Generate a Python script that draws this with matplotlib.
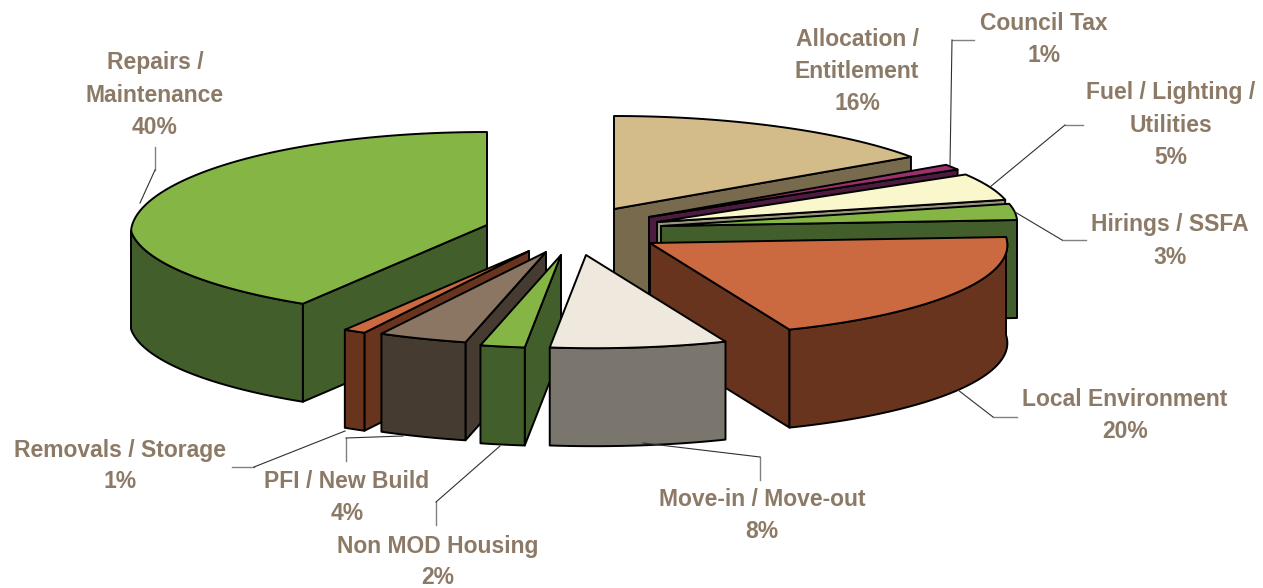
import numpy as np
from matplotlib import pyplot as plt
from matplotlib.patches import Polygon

# clockwise from 12 o'clock
nazwy = ['Allocation /\nEntitlement', 'Council Tax', 'Fuel / Lighting /\nUtilities', 'Hirings / SSFA',
         'Local Environment', 'Move-in / Move-out', 'Non MOD Housing', 'PFI / New Build',
         'Removals / Storage', 'Repairs /\nMaintenance']
procenty = [16, 1, 5, 3, 20, 8, 2, 4, 1, 40]

kolor_gora = ['#d4bb8a', '#9c2f6e', '#fbf7cd', '#84b545', '#cb6a40', '#efe8dc', '#84b545', '#8a7662', '#cb6a40', '#84b545']
kolor_bok = ['#776a4d', '#4d1a40', '#989580', '#425e2b', '#68341e', '#7a766e', '#425e2b', '#453b31', '#68341e', '#425e2b']

# where each exploded slice has its tip, in pixels
wierzcholki = [(614, 209), (649, 217), (657, 222), (661, 226), (650, 243),
               (586, 255), (561, 255), (546, 252), (529, 251), (487, 225)]
kolejnosc = [0, 1, 2, 3, 4, 9, 8, 7, 6, 5]

# label centre (x, y of first line)
etykiety = [(857, 39), (1044, 23), (1171, 93), (1170, 225), (1125, 400),
            (762, 500), (438, 546), (347, 482), (120, 450), (155, 63)]
linie = [None,
         [(974, 40), (952, 40), (950, 166)],
         [(1083, 125), (1065, 125), (990, 187)],
         [(1086, 240), (1062, 240), (1015, 212)],
         [(1017, 417), (993, 417), (958, 390)],
         [(760, 480), (760, 457), (643, 443)],
         [(436, 525), (436, 502), (500, 446)],
         [(346, 461), (346, 438), (403, 436)],
         [(232, 467), (254, 467), (345, 431)],
         [(155, 147), (155, 170), (140, 203)]]

RX = 356
RY = 93
WYS = 98
SKOS = 31
PRZECH = 6


def punkty(wierzcholek, katy):
    t = np.radians(katy)
    s, c = np.sin(t), np.cos(t)
    x = wierzcholek[0] + RX * s + SKOS * np.maximum(0, -c) - 8 * s * np.maximum(0, c)
    y = wierzcholek[1] - RY * c - PRZECH * s * (1 - np.maximum(0, c))
    return np.column_stack([x, y])


def krzyz(a, b):
    return a[0] * b[1] - a[1] * b[0]


def rysuj_plat(ax, wierzcholek, start, stop, gora, bok):
    luk = punkty(wierzcholek, np.linspace(start, stop, 80))
    w = np.array(wierzcholek, dtype=float)
    dol = np.array([0, WYS])
    srodek = luk[len(luk) // 2]
    styl = {'edgecolor': 'black', 'linewidth': 1.4, 'joinstyle': 'round'}
    # only the cut faces turned towards the viewer
    for p in (luk[0], luk[-1]):
        if krzyz(p - w, srodek - w) * krzyz(p - w, dol) < 0:
            ax.add_patch(Polygon([w, p, p + dol, w + dol], facecolor=bok, **styl))
    # outer wall, front half of the rim only
    od, do = max(start, 90), min(stop, 270)
    if od < do:
        przod = punkty(wierzcholek, np.linspace(od, do, 80))
        ax.add_patch(Polygon(np.vstack([przod, (przod + dol)[::-1]]), facecolor=bok, **styl))
    ax.add_patch(Polygon(np.vstack([w, luk]), facecolor=gora, **styl))


fig = plt.figure(figsize=(12.63, 5.88), dpi=100)
ax = fig.add_axes([0, 0, 1, 1])
ax.set_xlim(0, 1263)
ax.set_ylim(588, 0)
ax.axis('off')

granice = np.cumsum([0] + procenty) * 3.6
for i in kolejnosc:
    rysuj_plat(ax, wierzcholki[i], granice[i], granice[i + 1], kolor_gora[i], kolor_bok[i])

for linia in linie:
    if linia is None:
        continue
    xs, ys = zip(*linia)
    ax.plot(xs[:2], ys[:2], color='#808080', linewidth=1.0)
    ax.plot(xs[1:], ys[1:], color='#303030', linewidth=0.8)

for i in range(len(nazwy)):
    tekst = nazwy[i].split('\n') + [str(procenty[i]) + '%']
    for j, wiersz in enumerate(tekst):
        ax.text(etykiety[i][0], etykiety[i][1] + 32 * j, wiersz, ha='center', va='center',
                fontsize=16.5, fontweight='bold', family='Liberation Sans', color='#8c7a66')

fig.savefig('out.png', dpi=100)
